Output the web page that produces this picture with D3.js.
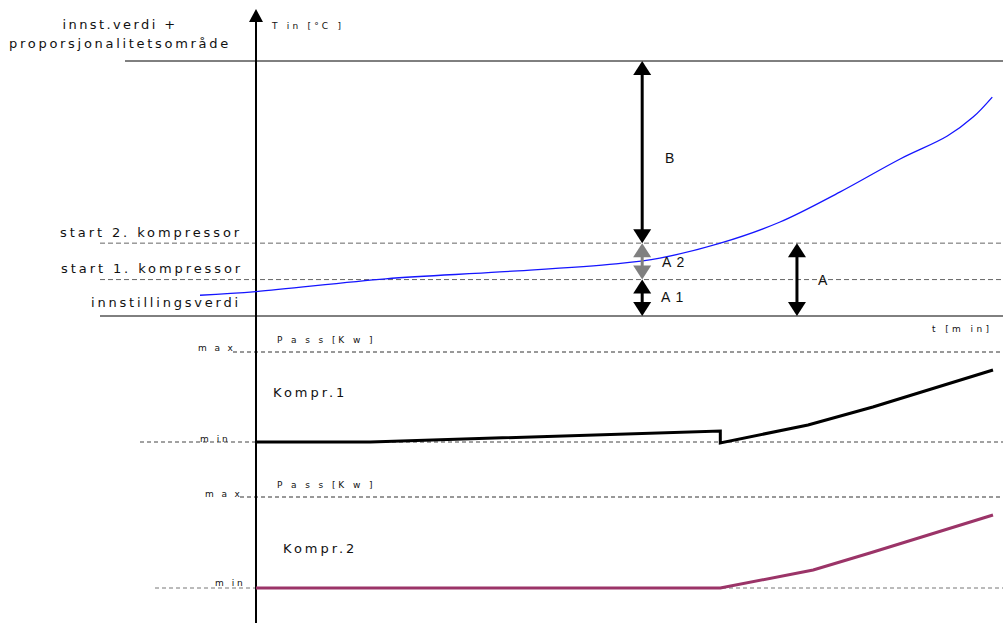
<!DOCTYPE html>
<html>
<head>
<meta charset="utf-8">
<script src="https://cdn.jsdelivr.net/npm/d3@7"></script>
<style>
  body { margin: 0; background: #fff; }
  text { font-family: "DejaVu Sans", Verdana, sans-serif; fill: #111; }
</style>
</head>
<body>
<div id="chart"></div>
<script>
// temperature curve T in (time in min, temperature)
var tinTime  = [-7.6, 0, 17.6, 33.1, 48.8, 54.8, 63.0, 71.1, 79.2, 87.4, 93.8, 97.3, 99.9];
var tinValue = [20.57, 20.67, 21.02, 21.21, 21.43, 21.59, 22.0, 22.58, 23.4, 24.31, 24.94, 25.46, 26.01];

// temperature levels
var levelNames  = ["innstillingsverdi", "start 1. kompressor", "start 2. kompressor", "innst.verdi + proporsjonalitetsområde"];
var levelValues = [20, 21, 22, 27];

// compressor output, % of range between min and max
var k1Time  = [0, 15.5, 63, 63, 74.9, 83.7, 100];
var k1Power = [0, 0, 12.2, -1, 18.9, 38.9, 80];
var k2Time  = [0, 63, 75.6, 83.3, 100];
var k2Power = [0, 0, 19.8, 38.5, 80.2];

var W = 1003, H = 623;
var svg = d3.select("#chart").append("svg")
  .attr("width", W).attr("height", H);

var x  = d3.scaleLinear().domain([0, 100]).range([256, 993]);
var yT = d3.scaleLinear().domain([20, 27]).range([316, 61]);
var yK1 = d3.scaleLinear().domain([0, 100]).range([442, 352]);
var yK2 = d3.scaleLinear().domain([0, 100]).range([588, 497]);

function hline(y, x1, x2, color, dash, w) {
  svg.append("line")
    .attr("x1", x1).attr("x2", x2).attr("y1", y).attr("y2", y)
    .attr("stroke", color).attr("stroke-width", w || 1)
    .attr("stroke-dasharray", dash || null);
}

function label(txt, xx, yy, size, spacing, anchor) {
  svg.append("text")
    .attr("x", xx).attr("y", yy)
    .attr("font-size", size)
    .attr("letter-spacing", spacing)
    .attr("text-anchor", anchor || "start")
    .text(txt);
}

// temperature level lines
hline(yT(levelValues[3]), 125, W, "#000");
hline(yT(levelValues[2]), 100, W, "#666", "5,3");
hline(yT(levelValues[1]), 100, W, "#666", "5,3");
hline(yT(levelValues[0]), 100, W, "#000");

// compressor lines
hline(yK1(100), 233, W, "#333", "4,3");
hline(yK1(0), 140, W, "#444", "4,3");
hline(yK2(100), 240, W, "#333", "4,3");
hline(yK2(0), 155, W, "#777", "4,3");

// vertical axis with arrow
svg.append("line")
  .attr("x1", 256).attr("x2", 256).attr("y1", 20).attr("y2", H)
  .attr("stroke", "#000").attr("stroke-width", 2);
svg.append("path")
  .attr("d", "M256,9 L263,22 L249,22 Z").attr("fill", "#000");

// labels
label("innst.verdi +", 120, 29, 13, 2.4, "middle");
label("proporsjonalitetsområde", 120, 48, 13, 2.7, "middle");
label("T in [°C ]", 272, 29, 9, 3.2);
label(levelNames[2], 242, 237, 13, 2.9, "end");
label(levelNames[1], 243, 273, 13, 2.9, "end");
label(levelNames[0], 241, 307, 13, 2.8, "end");
label("t [m in]", 932, 332, 9, 3.4);

label("m a x", 198, 351, 9, 2.4);
label("P a s s  [K w ]", 277, 343, 9, 2.9);
label("Kompr.1", 273, 397, 13, 3);
label("m in", 200, 442, 9, 2.6);

label("m a x", 205, 497, 9, 2.4);
label("P a s s  [K w ]", 277, 488, 9, 2.9);
label("Kompr.2", 283, 553, 13, 3);
label("m in", 215, 586, 9, 2.6);

// blue temperature curve
var tinLine = d3.line()
  .x(function(d, i) { return x(tinTime[i]); })
  .y(function(d) { return yT(d); })
  .curve(d3.curveCatmullRom.alpha(0.5));
svg.append("path")
  .attr("d", tinLine(tinValue))
  .attr("fill", "none").attr("stroke", "#1515ff").attr("stroke-width", 1.3);

// compressor curves
svg.append("path")
  .attr("d", d3.line().x(function(d, i) { return x(k1Time[i]); }).y(function(d) { return yK1(d); })(k1Power))
  .attr("fill", "none").attr("stroke", "#000").attr("stroke-width", 3).attr("stroke-linejoin", "miter");
svg.append("path")
  .attr("d", d3.line().x(function(d, i) { return x(k2Time[i]); }).y(function(d) { return yK2(d); })(k2Power))
  .attr("fill", "none").attr("stroke", "#9b3468").attr("stroke-width", 3);

// double arrows
function dblArrow(xx, y1, y2, color) {
  var hl = 14, hw = 9;
  svg.append("line")
    .attr("x1", xx).attr("x2", xx).attr("y1", y1 + hl - 1).attr("y2", y2 - hl + 1)
    .attr("stroke", color).attr("stroke-width", 3);
  svg.append("path")
    .attr("d", "M" + xx + "," + y1 + " L" + (xx + hw) + "," + (y1 + hl) + " L" + (xx - hw) + "," + (y1 + hl) + " Z")
    .attr("fill", color);
  svg.append("path")
    .attr("d", "M" + xx + "," + y2 + " L" + (xx + hw) + "," + (y2 - hl) + " L" + (xx - hw) + "," + (y2 - hl) + " Z")
    .attr("fill", color);
}

var ax = x(52.4), bx = x(73.4);
dblArrow(ax, yT(27), yT(22), "#000");
dblArrow(ax, yT(22), yT(21), "#808080");
dblArrow(ax, yT(21), yT(20), "#000");
dblArrow(bx, yT(22), yT(20), "#000");

svg.append("text").attr("x", 665).attr("y", 163).attr("font-size", 14)
  .style("font-family", "Liberation Sans, Arial, sans-serif").text("B");
svg.append("text").attr("x", 662).attr("y", 267).attr("font-size", 14)
  .style("font-family", "Liberation Sans, Arial, sans-serif").attr("letter-spacing", 1).text("A  2");
svg.append("text").attr("x", 661).attr("y", 302).attr("font-size", 14)
  .style("font-family", "Liberation Sans, Arial, sans-serif").attr("letter-spacing", 1).text("A  1");
svg.append("text").attr("x", 818).attr("y", 285).attr("font-size", 14)
  .style("font-family", "Liberation Sans, Arial, sans-serif").text("A");
</script>
</body>
</html>
